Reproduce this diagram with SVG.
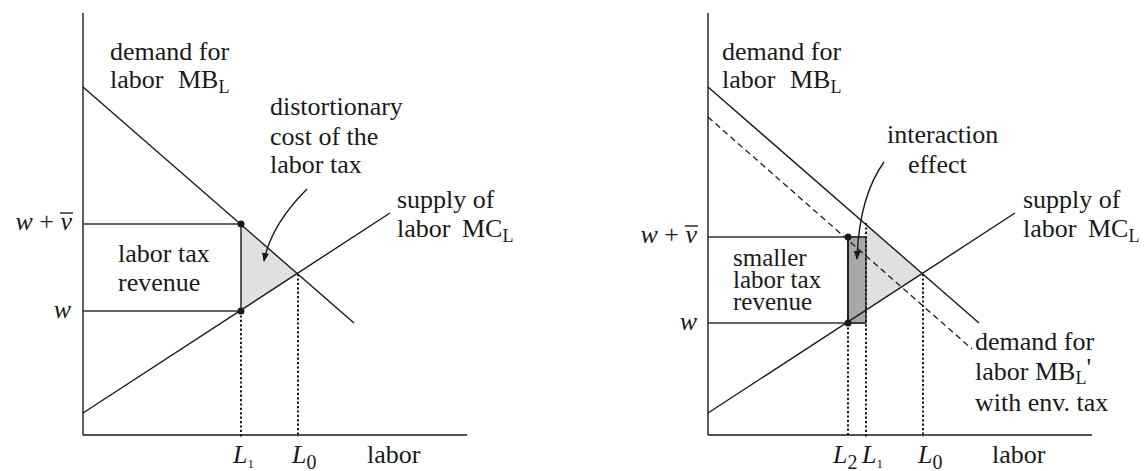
<svg xmlns="http://www.w3.org/2000/svg" width="1145" height="471" viewBox="0 0 1145 471">
<style>
text{font-family:'Liberation Serif','DejaVu Serif',serif;font-size:26px;fill:#1a1a1a}
.it{font-style:italic}
.sub{font-size:18px}
.ln{stroke:#1a1a1a;stroke-width:1.4;fill:none}
.hz{stroke:#333;stroke-width:1.6;fill:none}
.dot{stroke:#1a1a1a;stroke-width:2;stroke-dasharray:2.2,2.2;fill:none}
.dash{stroke:#1a1a1a;stroke-width:1.3;stroke-dasharray:6,4;fill:none}
.pt{fill:#1a1a1a}
.tight{font-size:25px}
</style>
<defs>
<marker id="ah" viewBox="0 0 10 10" refX="9" refY="5" markerWidth="9" markerHeight="9" orient="auto" markerUnits="userSpaceOnUse">
<path d="M0,1 L10,5 L0,9 z" fill="#1a1a1a"/>
</marker>
</defs>
<rect width="1145" height="471" fill="#fff"/>

<g id="left-panel">
<g id="left-areas">
<polygon points="241,224 241,311 298,274" fill="#e0e0e0"/>
</g>
<g id="left-connectors">
<line class="ln" x1="83" y1="13" x2="83" y2="435"/>
<line class="ln" x1="83" y1="435" x2="467" y2="435"/>
<line class="ln" x1="83" y1="87" x2="354" y2="323"/>
<line class="ln" x1="83" y1="413" x2="390" y2="213"/>
<line class="hz" x1="83" y1="224" x2="241" y2="224"/>
<line class="hz" x1="83" y1="311" x2="241" y2="311"/>
<line class="ln" x1="241" y1="224" x2="241" y2="311"/>
<line class="dot" x1="241" y1="311" x2="241" y2="437"/>
<line class="dot" x1="298" y1="274" x2="298" y2="437"/>
<path class="ln" d="M307,189 Q271,225 264,261" marker-end="url(#ah)"/>
<circle class="pt" cx="241" cy="224" r="3.5"/>
<circle class="pt" cx="241" cy="311" r="3.5"/>
</g>
<g id="left-labels">
<text x="110" y="60">demand for</text>
<text x="110" y="88">labor</text>
<text x="178" y="88">MB<tspan class="sub" dy="5">L</tspan></text>
<text x="270" y="115">distortionary</text>
<text x="270" y="145">cost of the</text>
<text x="270" y="173">labor tax</text>
<text x="397" y="208">supply of</text>
<text x="397" y="237">labor</text>
<text x="462" y="237">MC<tspan class="sub" dy="5">L</tspan></text>
<text x="118" y="262">labor tax</text>
<text x="118" y="291">revenue</text>
<text x="72" y="230" text-anchor="end"><tspan class="it">w</tspan> + <tspan class="it">v</tspan></text>
<line x1="60" y1="213" x2="73" y2="213" stroke="#1a1a1a" stroke-width="1.4"/>
<text x="71" y="318" text-anchor="end" class="it">w</text>
<text x="233" y="463"><tspan class="it">L</tspan><tspan font-size="13" dy="5">1</tspan></text>
<text x="292" y="463"><tspan class="it">L</tspan><tspan font-size="20" dy="6">0</tspan></text>
<text x="367" y="463">labor</text>
</g>
</g>

<g id="right-panel">
<g id="right-areas">
<polygon points="866,224 866,311 923,274" fill="#e0e0e0"/>
<rect x="848" y="237" width="18" height="86" fill="#a8a8a8" stroke="#333" stroke-width="1.4"/>
</g>
<g id="right-connectors">
<line class="ln" x1="708" y1="13" x2="708" y2="435"/>
<line class="ln" x1="708" y1="435" x2="1092" y2="435"/>
<line class="ln" x1="708" y1="87" x2="979" y2="323"/>
<line class="dash" x1="708" y1="117" x2="972" y2="349"/>
<line class="ln" x1="708" y1="413" x2="1015" y2="213"/>
<line class="hz" x1="708" y1="237" x2="866" y2="237"/>
<line class="hz" x1="708" y1="323" x2="866" y2="323"/>
<line x1="848" y1="237" x2="848" y2="323" stroke="#222" stroke-width="2"/>
<line class="dot" x1="866" y1="223" x2="866" y2="437"/>
<line class="dot" x1="848" y1="323" x2="848" y2="437"/>
<line class="dot" x1="923" y1="274" x2="923" y2="437"/>
<path class="ln" d="M884,162 Q859,197 857,259" marker-end="url(#ah)"/>
<circle class="pt" cx="848" cy="237" r="3.5"/>
<circle class="pt" cx="848" cy="323" r="3.5"/>
</g>
<g id="right-labels">
<text x="722" y="60">demand for</text>
<text x="722" y="88">labor</text>
<text x="790" y="88">MB<tspan class="sub" dy="5">L</tspan></text>
<text x="887" y="143">interaction</text>
<text x="908" y="173">effect</text>
<text x="1023" y="208">supply of</text>
<text x="1023" y="237">labor</text>
<text x="1088" y="237">MC<tspan class="sub" dy="5">L</tspan></text>
<text class="tight" x="733" y="266">smaller</text>
<text class="tight" x="733" y="288">labor tax</text>
<text class="tight" x="733" y="310">revenue</text>
<text x="975" y="350">demand for</text>
<text x="975" y="380">labor MB<tspan class="sub" dy="4">L</tspan><tspan dy="-8">'</tspan></text>
<text x="975" y="411">with env. tax</text>
<text x="697" y="243" text-anchor="end"><tspan class="it">w</tspan> + <tspan class="it">v</tspan></text>
<line x1="685" y1="226" x2="698" y2="226" stroke="#1a1a1a" stroke-width="1.4"/>
<text x="697" y="330" text-anchor="end" class="it">w</text>
<text x="833" y="463"><tspan class="it">L</tspan><tspan font-size="20" dy="6">2</tspan></text>
<text x="862" y="463"><tspan class="it">L</tspan><tspan font-size="13" dy="5">1</tspan></text>
<text x="918" y="463"><tspan class="it">L</tspan><tspan font-size="20" dy="6">0</tspan></text>
<text x="992" y="463">labor</text>
</g>
</g>
</svg>
